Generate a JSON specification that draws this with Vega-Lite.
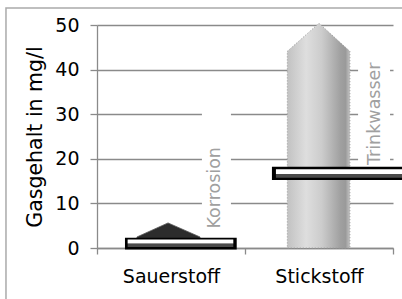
{
  "$schema": "https://vega.github.io/schema/vega-lite/v6.json",
  "autosize": {"type": "none"},
  "width": 296,
  "height": 223,
  "padding": {"left": 97, "top": 25, "right": 9, "bottom": 51},
  "background": "white",
  "config": {
    "view": {"stroke": null},
    "font": "DejaVu Sans",
    "axis": {"labelFont": "DejaVu Sans", "titleFont": "DejaVu Sans"}
  },
  "datasets": {
    "frame": [{"x": -0.615, "x2": 3, "y": 53.8, "y2": -20}],
    "shapes": [
      {"cat": "Sauerstoff", "x": 0.27, "y": 2.47},
      {"cat": "Sauerstoff", "x": 0.48, "y": 5.62},
      {"cat": "Sauerstoff", "x": 0.696, "y": 2.47},
      {"cat": "Stickstoff", "x": 1.286, "y": 44.1},
      {"cat": "Stickstoff", "x": 1.5, "y": 50.4},
      {"cat": "Stickstoff", "x": 1.709, "y": 44.1}
    ],
    "textboxes": [
      {"x": 0.709, "x2": 0.905, "y": 3, "y2": 33},
      {"x": 1.764, "x2": 1.98, "y": 18.5, "y2": 46.5}
    ],
    "boxes": [
      {"cat": "Sauerstoff", "part": "outer", "x": 0.189, "x2": 0.944, "y": -0.36, "y2": 2.29},
      {"cat": "Sauerstoff", "part": "band", "x": 0.207, "x2": 0.921, "y": 0.22, "y2": 0.99},
      {"cat": "Sauerstoff", "part": "inner", "x": 0.207, "x2": 0.921, "y": 0.99, "y2": 1.89},
      {"cat": "Stickstoff", "part": "outer", "x": 1.182, "x2": 2.2, "y": 15.23, "y2": 18.2},
      {"cat": "Stickstoff", "part": "band", "x": 1.209, "x2": 2.2, "y": 15.74, "y2": 16.58},
      {"cat": "Stickstoff", "part": "inner", "x": 1.209, "x2": 2.2, "y": 16.58, "y2": 17.63}
    ],
    "labels": [
      {"text": "Korrosion", "x": 0.80, "y": 13.5},
      {"text": "Trinkwasser", "x": 1.88, "y": 30.1}
    ]
  },
  "encoding": {
    "x": {
      "field": "x", "type": "quantitative",
      "scale": {"domain": [0, 2], "nice": false, "zero": false},
      "axis": {
        "title": null,
        "values": [0, 0.5, 1, 1.5, 2],
        "labelExpr": "datum.value == 0.5 ? 'Sauerstoff' : datum.value == 1.5 ? 'Stickstoff' : ''",
        "labelFontSize": 19,
        "labelColor": "#000",
        "labelPadding": 13,
        "labelFlush": false,
        "labelOverlap": false,
        "grid": false,
        "domainColor": "#8a8a8a",
        "domainWidth": 1.3,
        "tickColor": "#8a8a8a",
        "tickWidth": 1.3,
        "tickSize": 6,
        "tickOpacity": {"condition": {"test": "datum.value % 1 != 0", "value": 0}, "value": 1}
      }
    },
    "y": {
      "field": "y", "type": "quantitative",
      "scale": {"domain": [0, 50], "nice": false},
      "axis": {
        "title": "Gasgehalt in mg/l",
        "titleFontSize": 20.5,
        "titleFontWeight": "normal",
        "titleColor": "#000",
        "titlePadding": 9,
        "values": [0, 10, 20, 30, 40, 50],
        "labelFontSize": 19,
        "labelColor": "#000",
        "labelPadding": 11,
        "grid": true,
        "gridColor": "#8a8a8a",
        "gridWidth": 1.3,
        "domainColor": "#8a8a8a",
        "domainWidth": 1.3,
        "tickColor": "#8a8a8a",
        "tickWidth": 1.3,
        "tickSize": 7
      }
    }
  },
  "layer": [
    {
      "data": {"name": "frame"},
      "mark": {"type": "rect", "fill": null, "stroke": "#aaaaaa", "strokeWidth": 1.5, "clip": false},
      "encoding": {"x2": {"field": "x2"}, "y2": {"field": "y2"}}
    },
    {
      "data": {"name": "textboxes"},
      "mark": {"type": "rect", "fill": "white", "stroke": null},
      "encoding": {"x2": {"field": "x2"}, "y2": {"field": "y2"}}
    },
    {
      "data": {"name": "shapes"},
      "transform": [{"filter": "datum.cat == 'Sauerstoff'"}],
      "mark": {"type": "area", "fill": "#2c2c2c", "stroke": "#555", "strokeWidth": 0.8},
      "encoding": {"y2": {"datum": 0}, "detail": {"field": "cat"}}
    },
    {
      "data": {"name": "shapes"},
      "transform": [{"filter": "datum.cat == 'Stickstoff'"}],
      "mark": {
        "type": "area",
        "color": {
          "gradient": "linear", "x1": 0, "y1": 0, "x2": 1, "y2": 0,
          "stops": [
            {"offset": 0, "color": "#c2c2c2"},
            {"offset": 0.3, "color": "#dedede"},
            {"offset": 0.55, "color": "#cccccc"},
            {"offset": 0.85, "color": "#a0a0a0"},
            {"offset": 0.93, "color": "#9a9a9a"},
            {"offset": 1, "color": "#c4c4c4"}
          ]
        },
        "stroke": "#9a9a9a",
        "strokeWidth": 1,
        "strokeDash": [1, 2]
      },
      "encoding": {"y2": {"datum": 0}, "detail": {"field": "cat"}}
    },
    {
      "data": {"name": "boxes"},
      "mark": {"type": "rect", "clip": false, "stroke": null},
      "encoding": {
        "x2": {"field": "x2"},
        "y2": {"field": "y2"},
        "color": {
          "field": "part", "type": "nominal",
          "scale": {"domain": ["outer", "band", "inner"], "range": ["#000000", "#4a4a4a", "#ffffff"]},
          "legend": null
        }
      }
    },
    {
      "data": {"name": "labels"},
      "mark": {"type": "text", "angle": 270, "align": "center", "baseline": "middle", "fontSize": 17.5, "color": "#a0a0a0", "font": "DejaVu Sans"},
      "encoding": {"text": {"field": "text"}}
    }
  ]
}
